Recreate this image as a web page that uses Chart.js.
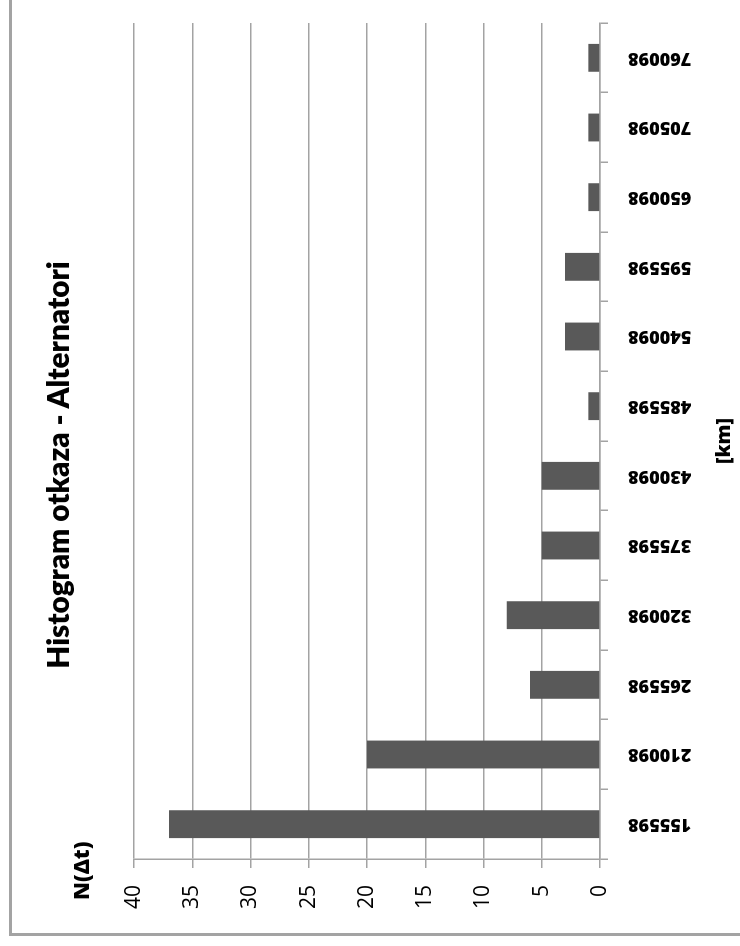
<!DOCTYPE html>
<html>
<head>
<meta charset="utf-8">
<script src="https://cdn.jsdelivr.net/npm/chart.js@4.4.1/dist/chart.umd.min.js"></script>
<style>
  html, body { margin: 0; padding: 0; background: #fff; width: 740px; height: 946px; overflow: hidden; }
  #frame { position: absolute; left: 9px; top: -10px; width: 760px; height: 946px; box-sizing: border-box;
    border-left: 3px solid #a3a3a3; border-bottom: 3px solid #a3a3a3; }
  /* the chart is laid out upright (946 x 740) and then turned a quarter turn to the left */
  #turn { position: absolute; left: 0; top: 0; width: 946px; height: 740px; transform-origin: 0 0;
    transform: translateY(946px) rotate(-90deg); }
  #turn canvas { position: absolute; left: 0; top: 0; }
  .lbl { position: absolute; color: #000; white-space: nowrap; line-height: 1.2; }
  #title { left: 0; width: 962px; top: 40px; text-align: center; font-size: 29.7px; font-weight: 800; font-family: Lato, 'Open Sans', sans-serif; }
  #nlab { left: 46px; top: 68px; font-size: 21.5px; font-weight: 800; font-family: 'Open Sans', sans-serif; }
</style>
</head>
<body>
<div id="frame"></div>
<div id="turn">
  <canvas id="chart" width="946" height="740"></canvas>
  <div class="lbl" id="title">Histogram otkaza - Alternatori</div>
  <div class="lbl" id="nlab">N(Δt)</div>
</div>
<script>
(() => {
  'use strict';
  const CATEGORIES = ['155598','210098','265598','320098','375598','430098','485598','540098','595598','650098','705098','760098'];
  const FAILURES = [37, 20, 6, 8, 5, 5, 1, 3, 3, 1, 1, 1];
  const Y_MIN = 0, Y_MAX = 40, Y_STEP = 5;
  const X_TITLE = '[km]';

  const FONT = "'Open Sans', sans-serif";
  const GRID = '#a3a3a3';
  const BAR = '#595959';

  new Chart(document.getElementById('chart'), {
    type: 'bar',
    data: {
      labels: CATEGORIES,
      datasets: [{ data: FAILURES, backgroundColor: BAR, borderWidth: 0, barPercentage: 0.4, categoryPercentage: 1 }]
    },
    options: {
      responsive: false, animation: false,
      layout: { padding: { top: 134, right: 23, bottom: 0, left: 0 } },
      plugins: { legend: { display: false }, tooltip: { enabled: false }, title: { display: false } },
      scales: {
        x: {
          grid: { display: true, drawOnChartArea: false, drawTicks: true, tickLength: 8, color: GRID, lineWidth: 1.5, offset: true },
          border: { display: true, color: GRID, width: 1.5 },
          ticks: { autoSkip: false, minRotation: 90, maxRotation: 90, padding: 20, color: '#000', font: { family: FONT, weight: '800', size: 18 } },
          title: { display: true, text: X_TITLE, color: '#000', font: { family: FONT, weight: '800', size: 20 }, padding: { top: 0, bottom: 4 } },
          afterFit: s => { s.height = 140; }
        },
        y: {
          min: Y_MIN, max: Y_MAX,
          grid: { color: GRID, lineWidth: 1.5, tickLength: 9 },
          border: { display: true, color: GRID, width: 1.5 },
          ticks: { stepSize: Y_STEP, padding: 17, color: '#000', font: { family: FONT, size: 21 } },
          afterFit: s => { s.width = 87; }
        }
      }
    }
  });
})();
</script>
</body>
</html>
